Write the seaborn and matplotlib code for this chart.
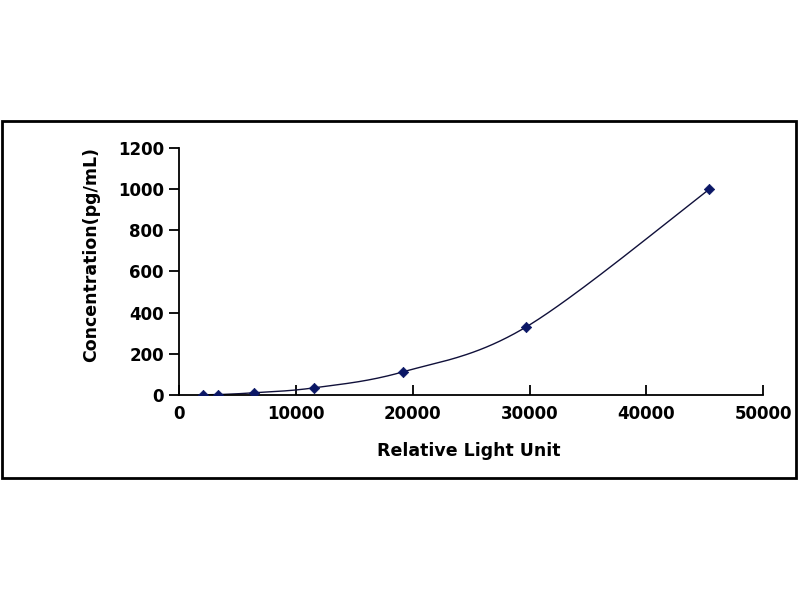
import numpy as np
import pandas as pd
import seaborn as sns
import matplotlib.pyplot as plt
from matplotlib.patches import Rectangle

# standard curve points
rlu = [2050, 3340, 6420, 11560, 19180, 29700, 45380]
conc = [0, 1, 10, 34, 112, 330, 1000]
x_ticks = [0, 10000, 20000, 30000, 40000, 50000]
y_ticks = [0, 200, 400, 600, 800, 1000, 1200]

sns.set_style("white")
plt.rcParams['font.family'] = ['DejaVu Sans']
plt.rcParams['font.weight'] = 'bold'

fig = plt.figure(figsize=(8, 6), dpi=100)
ax = fig.add_axes([0.224, 0.342, 0.73, 0.411])

# smoothed line like a spreadsheet chart (Catmull-Rom in screen space)
px = np.array(rlu) / 50000 * 584
py = np.array(conc) / 1200 * 247
P = np.column_stack([px, py])
Pe = np.vstack([P[0], P, P[-1]])
seg = []
t = np.linspace(0, 1, 40)[:, None]
for i in range(1, len(Pe) - 2):
    p0, p1, p2, p3 = Pe[i - 1], Pe[i], Pe[i + 1], Pe[i + 2]
    c1 = p1 + (p2 - p0) / 6
    c2 = p2 - (p3 - p1) / 6
    b = ((1 - t) ** 3) * p1 + 3 * ((1 - t) ** 2) * t * c1 + 3 * (1 - t) * t ** 2 * c2 + t ** 3 * p2
    seg.append(b)
curve = np.vstack(seg)
curve_df = pd.DataFrame({"x": curve[:, 0] / 584 * 50000, "y": curve[:, 1] / 247 * 1200})
sns.lineplot(data=curve_df, x="x", y="y", sort=False, color="#10103a", lw=1.0, ax=ax)

pts = pd.DataFrame({"rlu": rlu, "conc": conc})
sns.scatterplot(data=pts, x="rlu", y="conc", marker="D", s=28, color="#0b1766",
                edgecolor="#0b1766", linewidth=0.5, ax=ax, zorder=3)

ax.set_xlim(0, 50000)
ax.set_ylim(0, 1200)
ax.set_xticks(x_ticks)
ax.set_yticks(y_ticks)
ax.tick_params(axis='x', bottom=True, direction='in', length=7, width=1.3, labelsize=12, pad=7,
               colors='black')
ax.tick_params(axis='y', left=True, direction='out', length=7, width=1.3, labelsize=12, pad=4,
               colors='black')
for lab in ax.get_xticklabels() + ax.get_yticklabels():
    lab.set_fontweight('bold')
for s in ['top', 'right']:
    ax.spines[s].set_visible(False)
for s in ['left', 'bottom']:
    ax.spines[s].set_color('black')
    ax.spines[s].set_linewidth(1.3)

ax.set_xlabel("Relative Light Unit", fontsize=12.5, fontweight='bold', color='black')
ax.set_ylabel("Concentration(pg/mL)", fontsize=12.5, fontweight='bold', color='black')
ax.xaxis.set_label_coords(0.495, -0.19)
ax.yaxis.set_label_coords(-0.135, 0.57)

fig.patches.append(Rectangle((0.002, 0.203), 0.993, 0.595, transform=fig.transFigure,
                             fill=False, edgecolor='black', linewidth=2))

fig.savefig("out.png", dpi=100)
